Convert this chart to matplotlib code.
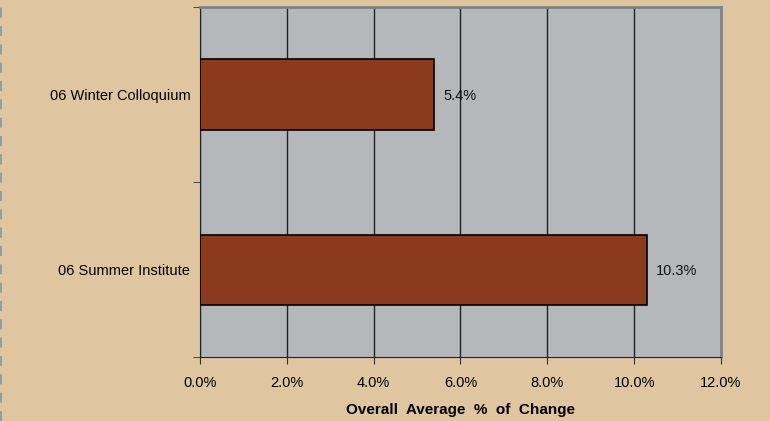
import matplotlib.pyplot as plt
from matplotlib.lines import Line2D
from matplotlib.ticker import FixedLocator

categories = ['06 Summer Institute', '06 Winter Colloquium']
values = [10.3, 5.4]
x_ticks = [0, 2, 4, 6, 8, 10, 12]

plt.rcParams['font.family'] = ['Liberation Sans', 'DejaVu Sans']

fig = plt.figure(figsize=(7.7, 4.21), dpi=100)
fig.patch.set_facecolor('#DFC5A0')
ax = fig.add_axes([200 / 770, 64 / 421, 521 / 770, 350 / 421])
ax.set_facecolor('#B5B8BA')

pos = list(range(len(categories)))
ax.barh(pos, values, height=0.4, color='#8B3A1E', edgecolor='black', linewidth=1.2, zorder=3)
for p, v in zip(pos, values):
    ax.text(v + 0.2, p - 0.01, f'{v:.1f}%', va='center', ha='left', fontsize=10.5, color='#111111')

ax.set_xlim(0, 12)
ax.set_ylim(-0.5, 1.5)
ax.set_xticks(x_ticks)
ax.set_xticklabels([f'{t:.1f}%' for t in x_ticks], fontsize=10.5)
ax.set_yticks(pos)
ax.set_yticklabels(categories, fontsize=10.5)
ax.yaxis.set_minor_locator(FixedLocator([-0.5, 0.5, 1.5]))
ax.tick_params(axis='y', which='major', length=0, pad=7)
ax.tick_params(axis='y', which='minor', length=5, direction='out', color='#333333')
ax.tick_params(axis='x', length=5, direction='out', color='#333333', pad=9)
ax.xaxis.grid(True, color='#222222', linewidth=1, zorder=1)
ax.set_axisbelow(True)

ax.spines['left'].set_color('#222222')
ax.spines['bottom'].set_color('#222222')
ax.spines['top'].set_color('#7F8486')
ax.spines['right'].set_color('#7F8486')
ax.spines['top'].set_linewidth(2)
ax.spines['right'].set_linewidth(2)

ax.set_xlabel('Overall  Average  %  of  Change', fontsize=11, fontweight='bold', labelpad=9)

fig.add_artist(Line2D([1 / 770, 1 / 770], [0, 1], transform=fig.transFigure,
                      color='#7A9AAA', linewidth=1.2, linestyle=(0, (6, 5))))

fig.savefig('out.png', dpi=100, facecolor=fig.get_facecolor())
